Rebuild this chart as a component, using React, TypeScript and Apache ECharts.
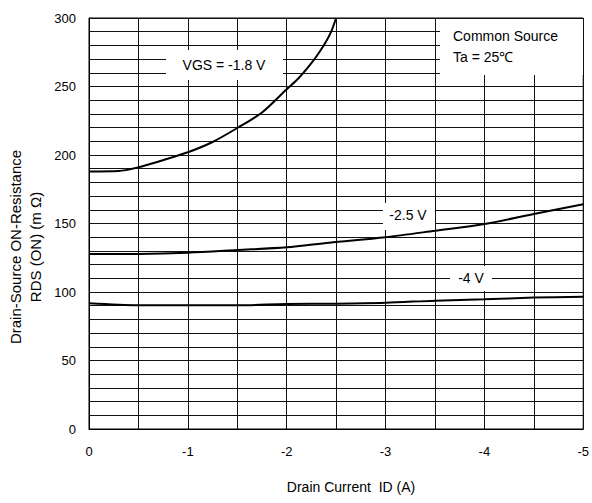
import React, { useEffect, useRef } from "react";
import * as echarts from "echarts";

const xTicks = [0, -1, -2, -3, -4, -5];
const yTickLabels = [0, 50, 100, 150, 200, 250, 300];

const vgs18X = [0, -0.3, -0.5, -0.72, -1.0, -1.25, -1.5, -1.75, -2.0, -2.12, -2.25, -2.33, -2.4, -2.45, -2.5];
const vgs18Y = [188, 188.3, 191, 195.6, 202, 209.5, 219.7, 231, 248, 256, 267, 275, 283, 290, 300];

const vgs25X = [0, -0.5, -1.0, -1.5, -2.0, -2.43, -3.0, -3.5, -4.0, -4.5, -5.0];
const vgs25Y = [127.7, 127.8, 128.7, 130.6, 132.6, 136, 140, 144.7, 149.6, 157, 164];

const vgs4X = [0, -0.5, -1.0, -1.5, -2.0, -2.5, -3.0, -3.5, -4.0, -4.5, -5.0];
const vgs4Y = [91.7, 90.3, 90.3, 90.3, 91.2, 91.5, 92.2, 93.7, 94.7, 95.9, 96.6];

const zip = (xs: number[], ys: number[]) => xs.map((x, i) => [x, ys[i]]);

const FONT = "'Liberation Sans', Arial, sans-serif";

export default function App() {
  const ref = useRef<HTMLDivElement>(null);
  useEffect(() => {
    if (!ref.current) return;
    const chart = echarts.init(ref.current, undefined, { renderer: "svg" });
    const lineStyle = { color: "#000", width: 2 };
    chart.setOption({
      animation: false,
      backgroundColor: "#fff",
      grid: { left: 89, right: 8, top: 18, bottom: 74, show: true, borderColor: "#000", borderWidth: 1 },
      xAxis: {
        type: "value",
        min: -5,
        max: 0,
        interval: 0.5,
        inverse: true,
        axisLine: { show: true, lineStyle: { color: "#000" } },
        axisTick: { show: false },
        splitLine: { show: true, lineStyle: { color: "#111", width: 1 } },
        axisLabel: {
          color: "#000",
          fontFamily: FONT,
          fontSize: 13,
          margin: 16,
          formatter: (v: number) => (xTicks.indexOf(v) >= 0 ? String(v) : ""),
        },
      },
      yAxis: {
        type: "value",
        min: 0,
        max: 300,
        interval: 10,
        axisLine: { show: true, lineStyle: { color: "#000" } },
        axisTick: { show: false },
        splitLine: { show: true, lineStyle: { color: "#111", width: 1 } },
        axisLabel: {
          color: "#000",
          fontFamily: FONT,
          fontSize: 13,
          margin: 13,
          formatter: (v: number) => (yTickLabels.indexOf(v) >= 0 ? String(v) : ""),
        },
      },
      series: [
        { type: "line", data: zip(vgs18X, vgs18Y), showSymbol: false, smooth: 0.3, lineStyle, z: 5 },
        { type: "line", data: zip(vgs25X, vgs25Y), showSymbol: false, smooth: 0.3, lineStyle, z: 5 },
        { type: "line", data: zip(vgs4X, vgs4Y), showSymbol: false, smooth: 0.3, lineStyle, z: 5 },
      ],
      graphic: [
        { type: "rect", shape: { x: 166, y: 50, width: 117, height: 30 }, style: { fill: "#fff" }, z: 10 },
        { type: "text", x: 224, y: 65, style: { text: "VGS = -1.8 V", font: `14px ${FONT}`, fill: "#000", textAlign: "center", textVerticalAlign: "middle" }, z: 11 },
        { type: "rect", shape: { x: 440, y: 19, width: 143, height: 56 }, style: { fill: "#fff" }, z: 10 },
        { type: "text", x: 453, y: 36, style: { text: "Common Source", font: `14px ${FONT}`, fill: "#000", textVerticalAlign: "middle" }, z: 11 },
        { type: "text", x: 453, y: 57, style: { text: "Ta = 25℃", font: `14px ${FONT}`, fill: "#000", textVerticalAlign: "middle" }, z: 11 },
        { type: "rect", shape: { x: 383, y: 203, width: 52, height: 27 }, style: { fill: "#fff" }, z: 10 },
        { type: "text", x: 408, y: 215, style: { text: "-2.5 V", font: `14px ${FONT}`, fill: "#000", textAlign: "center", textVerticalAlign: "middle" }, z: 11 },
        { type: "rect", shape: { x: 450, y: 266, width: 42, height: 25 }, style: { fill: "#fff" }, z: 10 },
        { type: "text", x: 471, y: 278, style: { text: "-4 V", font: `14px ${FONT}`, fill: "#000", textAlign: "center", textVerticalAlign: "middle" }, z: 11 },
        { type: "text", x: 15, y: 247, rotation: Math.PI / 2, style: { text: "Drain-Source ON-Resistance", font: `15px ${FONT}`, fill: "#000", textAlign: "center", textVerticalAlign: "middle" } },
        { type: "text", x: 35, y: 247, rotation: Math.PI / 2, style: { text: "RDS (ON) (m Ω)", font: `15px ${FONT}`, fill: "#000", textAlign: "center", textVerticalAlign: "middle" } },
        { type: "text", x: 351, y: 487, style: { text: "Drain Current  ID (A)", font: `14px ${FONT}`, fill: "#000", textAlign: "center", textVerticalAlign: "middle" } },
      ],
    });
    return () => chart.dispose();
  }, []);
  return <div ref={ref} style={{ width: 592, height: 503, position: "absolute", left: 0, top: 0 }} />;
}
